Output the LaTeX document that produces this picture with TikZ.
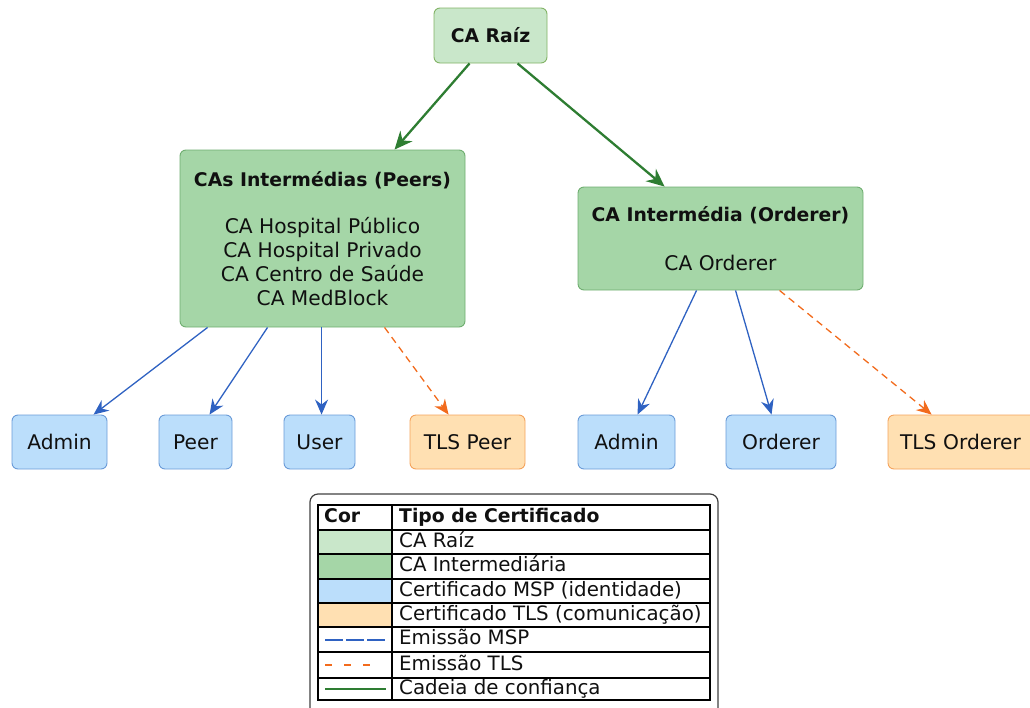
\documentclass[tikz,border=0pt]{standalone}
\usepackage{fontspec}
\setmainfont{DejaVu Sans}
\usetikzlibrary{arrows.meta,calc}
\definecolor{rootfill}{HTML}{C9E7CA}
\definecolor{rootdraw}{HTML}{82B366}
\definecolor{icafill}{HTML}{A5D6A7}
\definecolor{icadraw}{HTML}{6FAE70}
\definecolor{mspfill}{HTML}{BBDEFB}
\definecolor{mspdraw}{HTML}{6A9BD8}
\definecolor{tlsfill}{HTML}{FFE0B2}
\definecolor{tlsdraw}{HTML}{F5A35C}
\definecolor{chaincol}{HTML}{2E7D32}
\definecolor{mspcol}{HTML}{2F62C2}
\definecolor{tlscol}{HTML}{F26B1D}
\definecolor{txt}{HTML}{101010}
\begin{document}
\begin{tikzpicture}[x=1pt,y=-1pt,
  box/.style={draw, rounded corners=6pt, line width=0.9pt, text=txt, align=center, inner sep=0pt,
    font=\fontsize{20.2}{24}\selectfont},
  rootca/.style={box, fill=rootfill, draw=rootdraw},
  ica/.style={box, fill=icafill, draw=icadraw},
  msp/.style={box, fill=mspfill, draw=mspdraw, minimum height=54pt},
  tls/.style={box, fill=tlsfill, draw=tlsdraw, minimum height=54pt},
  chain/.style={draw=chaincol, line width=2.3pt, -{Stealth[length=18pt,width=16pt,inset=6pt]}},
  mspline/.style={draw=mspcol, line width=1.3pt, -{Stealth[length=15pt,width=13pt,inset=5pt]}},
  tlsline/.style={draw=tlscol, line width=1.3pt, dash pattern=on 7pt off 5pt, -{Stealth[length=15pt,width=13pt,inset=5pt]}},
  tabline/.style={draw=black, line width=1.1pt},
  legtxt/.style={anchor=west, inner sep=0pt, text=txt, text height=14pt, text depth=4pt, font=\fontsize{19.8}{24}\selectfont},
]
\useasboundingbox (0,0) rectangle (1030,707);

% CA nodes
\node[rootca, minimum width=113pt, minimum height=55pt, font=\fontsize{18.8}{24}\selectfont\bfseries] (root) at (490.5,35.5) {CA Raíz};
\node[ica, minimum width=285pt, minimum height=177pt] (peers) at (322.5,238.5)
  {{\fontsize{18.8}{24}\selectfont\bfseries CAs Intermédias (Peers)}\\[23pt]
   CA Hospital Público\\ CA Hospital Privado\\ CA Centro de Saúde\\ CA MedBlock};
\node[ica, minimum width=285pt, minimum height=103pt] (ord) at (720.5,238.5)
  {{\fontsize{18.8}{24}\selectfont\bfseries CA Intermédia (Orderer)}\\[25pt] CA Orderer};

% leaf nodes
\node[msp, minimum width=95pt] (admin1) at (59.5,442) {Admin};
\node[msp, minimum width=73pt] (peer) at (195.5,442) {Peer};
\node[msp, minimum width=71pt] (user) at (319.5,442) {User};
\node[tls, minimum width=115pt] (tlsp) at (467.5,442) {TLS Peer};
\node[msp, minimum width=97pt] (admin2) at (626.5,442) {Admin};
\node[msp, minimum width=110pt] (orderer) at (781,442) {Orderer};
\node[tls, minimum width=150pt, text width=142pt, align=left] (tlso) at (963,442) {\hspace{8pt}TLS Orderer};

% chain of trust
\draw[chain] ($(root.south west)+(36,0)$) -- ($(peers.north west)+(215,0)$);
\draw[chain] ($(root.south west)+(84,0)$) -- ($(ord.north west)+(87,0)$);

% MSP / TLS issuance
\draw[mspline] ($(peers.south west)+(28,0)$) -- ($(admin1.north west)+(82,0)$);
\draw[mspline] ($(peers.south west)+(88,0)$) -- ($(peer.north west)+(51,0)$);
\draw[mspline] ($(peers.south west)+(142,0)$) -- ($(user.north west)+(38,0)$);
\draw[tlsline] ($(peers.south west)+(205,0)$) -- ($(tlsp.north west)+(39,0)$);
\draw[mspline] ($(ord.south west)+(119,0)$) -- ($(admin2.north west)+(60,0)$);
\draw[mspline] ($(ord.south west)+(158,0)$) -- ($(orderer.north west)+(46,0)$);
\draw[tlsline] ($(ord.south west)+(202,0)$) -- ($(tlso.north west)+(44,0)$);

% legend
\draw[draw=black!75, line width=1.2pt, rounded corners=8pt] (310,494) rectangle (718,722);
\fill[rootfill] (318,530) rectangle (392,554);
\fill[icafill] (318,554) rectangle (392,579);
\fill[mspfill] (318,579) rectangle (392,603);
\fill[tlsfill] (318,603) rectangle (392,627);
\draw[tabline] (318,505) rectangle (710,700);
\foreach \yy in {530,554,579,603,627,652,678} \draw[tabline] (318,\yy) -- (710,\yy);
\draw[tabline] (392,505) -- (392,700);
\coordinate (lm1a) at (325,640); \coordinate (lm1b) at (386,640);
\coordinate (lm2a) at (325,665); \coordinate (lm2b) at (371,665);
\coordinate (lm3a) at (325,689); \coordinate (lm3b) at (386,689);
\draw[draw=mspcol, line width=1.3pt, dash pattern=on 18pt off 3pt] (lm1a) -- (lm1b);
\draw[draw=tlscol, line width=1.3pt, dash pattern=on 7pt off 12pt] (lm2a) -- (lm2b);
\draw[draw=chaincol, line width=2.2pt] (lm3a) -- (lm3b);

\node[legtxt, font=\fontsize{18.8}{24}\selectfont\bfseries] (hcor) at (324,517.5) {Cor};
\node[legtxt, font=\fontsize{18.8}{24}\selectfont\bfseries] (htipo) at (399,517.5) {Tipo de Certificado};
\node[legtxt] (l1) at (399,542) {CA Raíz};
\node[legtxt] (l2) at (399,566.5) {CA Intermediária};
\node[legtxt] (l3) at (399,591) {Certificado MSP (identidade)};
\node[legtxt] (l4) at (399,615) {Certificado TLS (comunicação)};
\node[legtxt] (l5) at (399,639.5) {Emissão MSP};
\node[legtxt] (l6) at (399,665) {Emissão TLS};
\node[legtxt] (l7) at (399,689) {Cadeia de confiança};
\end{tikzpicture}
\end{document}
